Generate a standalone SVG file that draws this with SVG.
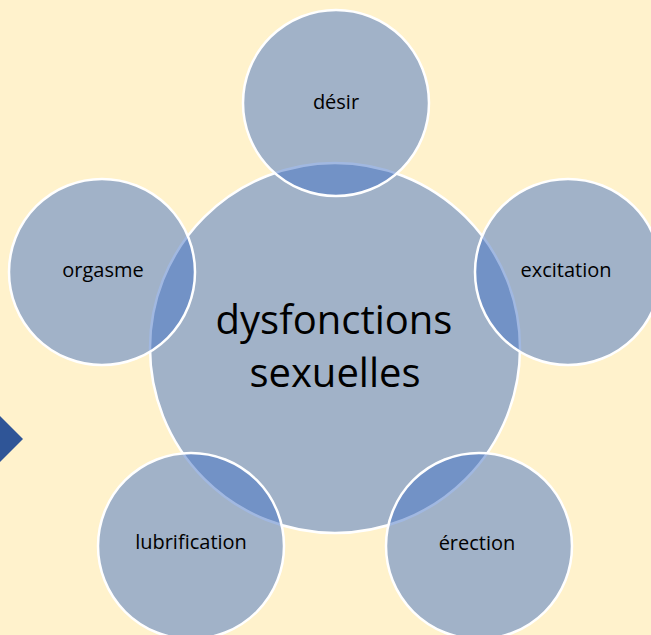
<svg xmlns="http://www.w3.org/2000/svg" width="651" height="635" viewBox="0 0 651 635">
<style>
.c{fill:#4472C4;fill-opacity:0.5;stroke:#ffffff;stroke-width:2.5}
.t{font-family:"Open Sans","Liberation Sans",sans-serif;fill:#000;text-anchor:middle}
.s{font-size:20px}
.b{font-size:40px}
</style>
<rect width="651" height="635" fill="#FFF2CC"/>
<polygon points="0,416 23,439 0,462" fill="#2F5597"/>
<g id="center"><circle class="c" cx="335" cy="348" r="185"/></g>
<g id="desir"><circle class="c" cx="336" cy="103" r="93"/><text class="t s" x="336" y="109">désir</text></g>
<g id="excitation"><circle class="c" cx="568" cy="272" r="93"/><text class="t s" x="566" y="277">excitation</text></g>
<g id="erection"><circle class="c" cx="479" cy="546" r="93"/><text class="t s" x="477" y="550">érection</text></g>
<g id="lubrification"><circle class="c" cx="191" cy="546" r="93"/><text class="t s" x="191" y="549">lubrification</text></g>
<g id="orgasme"><circle class="c" cx="102" cy="272" r="93"/><text class="t s" x="103" y="277">orgasme</text></g>
<g id="center-label"><text class="t b" x="334" y="334">dysfonctions</text><text class="t b" x="335" y="387">sexuelles</text></g>
<g id="connectors"/>
</svg>
